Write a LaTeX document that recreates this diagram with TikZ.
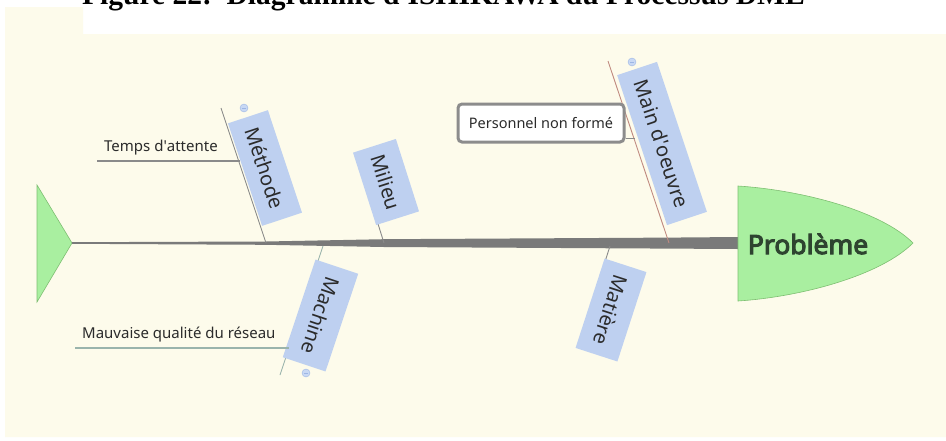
\documentclass[tikz,border=0pt]{standalone}
\usepackage{fontspec}
\setmainfont{Noto Sans}
\newfontfamily\headfont{Noto Sans}[FakeBold=4]
\newfontfamily\titlefont{Liberation Serif}
\definecolor{creambg}{HTML}{FDFBEB}
\definecolor{fishgreen}{HTML}{A9EFA0}
\definecolor{fishedge}{HTML}{7EBF72}
\definecolor{spinegray}{HTML}{7A7A7A}
\definecolor{labelblue}{HTML}{BED0F0}
\definecolor{dotblue}{HTML}{C8D8F4}
\definecolor{dotedge}{HTML}{9DB6E4}
\definecolor{textdark}{HTML}{2B2B2B}
\definecolor{headtext}{HTML}{2E4430}
\definecolor{bonegray}{HTML}{8A8A8A}
\definecolor{bonered}{HTML}{C08A80}
\definecolor{bonegreen}{HTML}{9AB4AC}
\definecolor{boxedge}{HTML}{8C8C8C}
\begin{document}
\begin{tikzpicture}[x=1pt,y=-1pt,
  fishpart/.style={fill=fishgreen,draw=fishedge,line width=0.6pt},
  catlabel/.style={fill=labelblue,text=textdark,inner sep=0pt,
    font=\fontsize{20}{20}\selectfont},
  causetext/.style={text=textdark,inner sep=0pt,font=\fontsize{15}{15}\selectfont},
  bone/.style={draw=bonegray,line width=0.9pt},
  subline/.style={draw=bonegray,line width=1.1pt},
  collapsedot/.style={circle,fill=dotblue,draw=dotedge,line width=0.4pt,
    minimum size=8pt,inner sep=0pt,
    path picture={\draw[dotedge,line width=0.6pt]
      ([xshift=-2pt]path picture bounding box.center) --
      ([xshift=2pt]path picture bounding box.center);}},
  causebox/.style={draw=boxedge,line width=3pt,rounded corners=4pt,fill=white,
    text=textdark,inner sep=0pt,minimum width=166pt,minimum height=38pt,
    font=\fontsize{14.5}{14.5}\selectfont}
]
\useasboundingbox (0,0) rectangle (946,440);
\clip (0,0) rectangle (946,440);
\fill[white] (0,0) rectangle (946,440);
\fill[creambg] (5,7) -- (83,7) -- (83,34) -- (946,34) -- (946,437) -- (5,437) -- cycle;

% title (cut off at the top in the reference)
\node[anchor=base west,inner sep=0pt,text=black,
  font=\titlefont\bfseries\fontsize{29.5}{29.5}\selectfont] (title) at (82,4)
  {Figure 22:\ \ Diagramme d\textquotesingle ISHIKAWA du Processus DML};

% key points
\coordinate (tailtip) at (72,243);
\coordinate (headl) at (738,243);
\coordinate (sp1) at (266,243);
\coordinate (sp2) at (384,243);
\coordinate (sp3) at (669,243);
\coordinate (sp4) at (323,246);
\coordinate (sp5) at (610,246);

% tail
\draw[fishpart] (37,185) -- (tailtip) -- (37,302) -- cycle;

% spine (tapered)
\fill[spinegray] (72,242.2) -- (266,241.5) -- (384,239.2) -- (669,237.6) -- (738,237)
  -- (738,249) -- (669,248.6) -- (384,247) -- (266,244.8) -- (72,243.8) -- cycle;

% head
\draw[fishpart] (738,186) -- (738,301)
  .. controls (800,297) and (880,276) .. (913,243)
  .. controls (880,210) and (800,190) .. (738,186) -- cycle;
\node[text=headtext,inner sep=0pt,font=\headfont\fontsize{26.5}{26.5}\selectfont]
  (probleme) at (808,244) {Problème};

% bones
\coordinate (b1top) at (221,108);
\coordinate (b2top) at (358,160);
\coordinate (b3top) at (608,61);
\coordinate (b4bot) at (280,375);
\coordinate (b5bot) at (596,290);
\draw[bone] (sp1) -- (b1top);
\draw[bone] (sp2) -- (b2top);
\draw[bone,draw=bonered] (sp3) -- (b3top);
\draw[bone,draw=bonegreen] (sp4) -- (b4bot);
\draw[bone] (sp5) -- (b5bot);

% category labels
\node[catlabel,rotate=-71.6,minimum width=108pt,minimum height=42pt] (methode) at (265,168) {Méthode};
\node[catlabel,rotate=-72.3,minimum width=76pt,minimum height=45pt] (milieu) at (386,182) {Milieu};
\node[catlabel,rotate=-71.6,minimum width=158pt,minimum height=42pt] (mainoeuvre) at (662,143.5) {Main d\textquotesingle oeuvre};
\node[catlabel,rotate=-108.5,minimum width=103pt,minimum height=45pt] (machine) at (320.5,315.5) {Machine};
\node[catlabel,rotate=-108,minimum width=94pt,minimum height=44pt] (matiere) at (611,310) {Matière};

% collapse markers
\node[collapsedot] (dot1) at (244,108) {};
\node[collapsedot] (dot3) at (632,62) {};
\node[collapsedot] (dot4) at (306,373) {};

% causes
\node[causetext,anchor=south west] (temps) at (104,155) {Temps d\textquotesingle attente};
\coordinate (tl) at (97,161);
\coordinate (tr) at (240,161);
\draw[subline] (tl) -- (tr);

\node[causetext,anchor=south west] (mauvaise) at (82,342) {Mauvaise qualité du réseau};
\coordinate (ml) at (75,348);
\coordinate (mr) at (289,348);
\draw[subline,draw=bonegreen] (ml) -- (mr);

\node[causebox] (personnel) at (541,123) {Personnel non formé};
\coordinate (pc) at (635,138);
\draw[bone] (personnel.east |- pc) -- (pc);
\end{tikzpicture}
\end{document}
